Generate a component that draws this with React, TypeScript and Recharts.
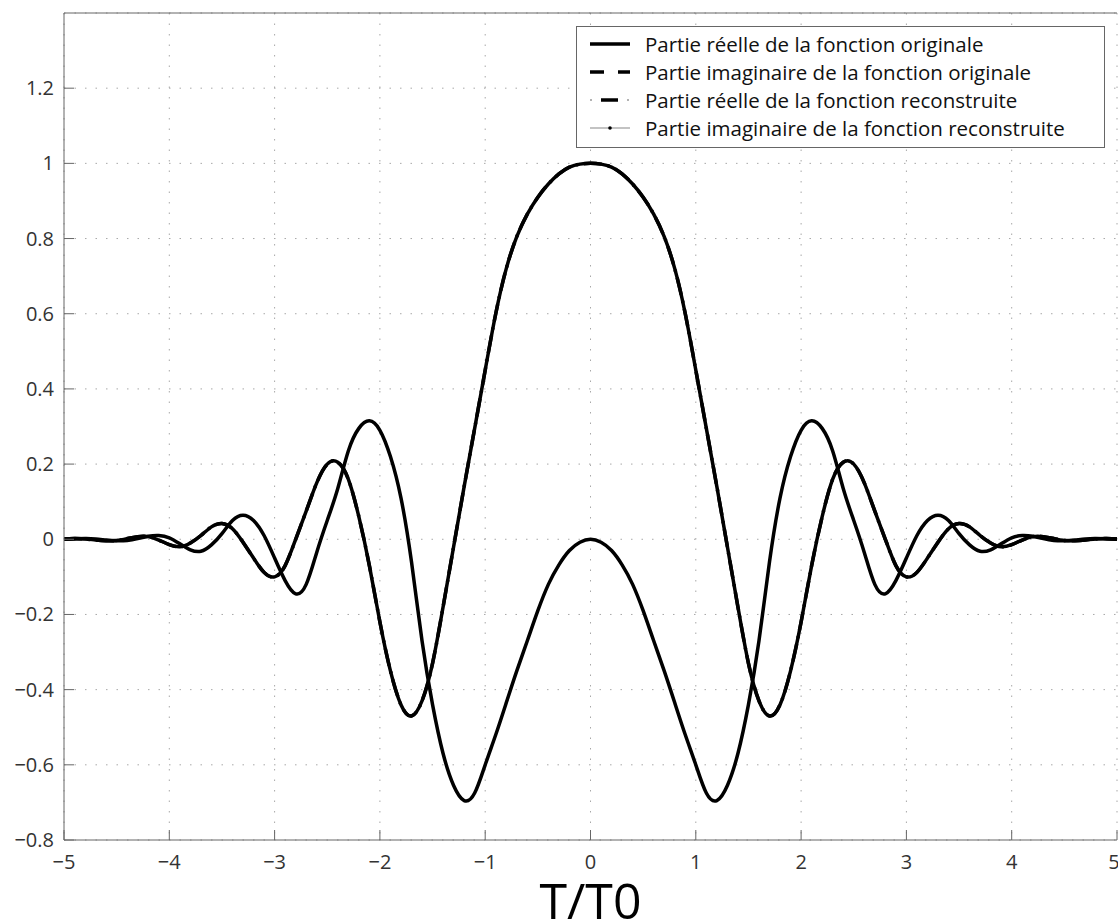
import { LineChart, Line, XAxis, YAxis, CartesianGrid } from 'recharts';

const tValues = [
  -5.0, -4.9, -4.8, -4.7, -4.6, -4.5, -4.4, -4.3, -4.2, -4.1,
  -4.0, -3.9, -3.8, -3.7, -3.6, -3.5, -3.4, -3.3, -3.2, -3.1,
  -3.0, -2.9, -2.8, -2.7, -2.6, -2.5, -2.4, -2.3, -2.2, -2.1,
  -2.0, -1.9, -1.8, -1.7, -1.6, -1.5, -1.4, -1.3, -1.2, -1.1,
  -1.0, -0.9, -0.8, -0.7, -0.6, -0.5, -0.4, -0.3, -0.2, -0.1,
  0.0,
  0.1, 0.2, 0.3, 0.4, 0.5, 0.6, 0.7, 0.8, 0.9, 1.0,
  1.1, 1.2, 1.3, 1.4, 1.5, 1.6, 1.7, 1.8, 1.9, 2.0,
  2.1, 2.2, 2.3, 2.4, 2.5, 2.6, 2.7, 2.8, 2.9, 3.0,
  3.1, 3.2, 3.3, 3.4, 3.5, 3.6, 3.7, 3.8, 3.9, 4.0,
  4.1, 4.2, 4.3, 4.4, 4.5, 4.6, 4.7, 4.8, 4.9, 5.0,
];

// partie réelle (pic à 1 en T=0)
const realPart = [
  0.001, 0.002, 0.001, -0.002, -0.004, -0.003, 0.002, 0.007, 0.007, -0.002,
  -0.014, -0.020, -0.010, 0.010, 0.033, 0.042, 0.028, -0.008, -0.050, -0.088,
  -0.100, -0.070, 0.000, 0.075, 0.150, 0.200, 0.205, 0.160, 0.060, -0.070,
  -0.220, -0.350, -0.440, -0.470, -0.430, -0.330, -0.180, -0.020, 0.140, 0.295,
  0.450, 0.600, 0.720, 0.805, 0.865, 0.910, 0.945, 0.972, 0.990, 0.998,
  1.000,
  0.998, 0.990, 0.972, 0.945, 0.910, 0.865, 0.805, 0.720, 0.600, 0.450,
  0.295, 0.140, -0.020, -0.180, -0.330, -0.430, -0.470, -0.440, -0.350, -0.220,
  -0.070, 0.060, 0.160, 0.205, 0.200, 0.150, 0.075, 0.000, -0.070, -0.100,
  -0.088, -0.050, -0.008, 0.028, 0.042, 0.033, 0.010, -0.010, -0.020, -0.014,
  -0.002, 0.007, 0.007, 0.002, -0.003, -0.004, -0.002, 0.001, 0.002, 0.001,
];

// partie imaginaire (0 en T=0)
const imagPart = [
  0.000, 0.001, 0.002, 0.001, -0.002, -0.004, -0.003, 0.002, 0.008, 0.010,
  0.004, -0.012, -0.028, -0.032, -0.015, 0.015, 0.050, 0.064, 0.050, 0.010,
  -0.050, -0.110, -0.145, -0.120, -0.035, 0.050, 0.135, 0.235, 0.295, 0.315,
  0.290, 0.220, 0.110, -0.060, -0.270, -0.440, -0.570, -0.655, -0.695, -0.675,
  -0.600, -0.520, -0.435, -0.350, -0.270, -0.190, -0.120, -0.068, -0.030, -0.008,
  0.000,
  -0.008, -0.030, -0.068, -0.120, -0.190, -0.270, -0.350, -0.435, -0.520, -0.600,
  -0.675, -0.695, -0.655, -0.570, -0.440, -0.270, -0.060, 0.110, 0.220, 0.290,
  0.315, 0.295, 0.235, 0.135, 0.050, -0.035, -0.120, -0.145, -0.110, -0.050,
  0.010, 0.050, 0.064, 0.050, 0.015, -0.015, -0.032, -0.028, -0.012, 0.004,
  0.010, 0.008, 0.002, -0.003, -0.004, -0.002, 0.001, 0.002, 0.001, 0.000,
];

const xTicks = [-5, -4, -3, -2, -1, 0, 1, 2, 3, 4, 5];
const yTicks = [-0.8, -0.6, -0.4, -0.2, 0, 0.2, 0.4, 0.6, 0.8, 1, 1.2];

const legendLabels = [
  'Partie réelle de la fonction originale',
  'Partie imaginaire de la fonction originale',
  'Partie réelle de la fonction reconstruite',
  'Partie imaginaire de la fonction reconstruite',
];

// la reconstruction se superpose exactement à l'original
const data = tValues.map((t, i) => ({
  t,
  realOrig: realPart[i],
  imagOrig: imagPart[i],
  realRecon: realPart[i],
  imagRecon: imagPart[i],
}));

const FONT = '"Open Sans", Lato, sans-serif';
const AXIS = '#666';
const PLOT_LEFT = 64;
const PLOT_BOTTOM = 840;

const fmt = (v: number) => String(Math.round(v * 10) / 10).replace('-', '\u2212');

// étiquettes placées à distance fixe des axes (graduations tournées vers l'intérieur)
const XTick = (props: any) => (
  <text x={props.x} y={PLOT_BOTTOM + 29} textAnchor="middle" fill="#333" fontSize={20} fontFamily={FONT}>
    {fmt(props.payload.value)}
  </text>
);

const YTick = (props: any) => (
  <text x={PLOT_LEFT - 10} y={props.y} dy={7} textAnchor="end" fill="#333" fontSize={20} fontFamily={FONT}>
    {fmt(props.payload.value)}
  </text>
);

function LegendSymbol({ index }: { index: number }) {
  return (
    <svg width={40} height={20} style={{ display: 'block' }}>
      {index === 0 && <line x1={0} y1={10} x2={40} y2={10} stroke="#000" strokeWidth={3.5} />}
      {index === 1 && (
        <>
          <line x1={0} y1={10} x2={14} y2={10} stroke="#000" strokeWidth={3.5} />
          <line x1={28} y1={10} x2={40} y2={10} stroke="#000" strokeWidth={3.5} />
        </>
      )}
      {index === 2 && (
        <>
          <line x1={0} y1={10} x2={2} y2={10} stroke="#999" strokeWidth={1.5} />
          <line x1={11} y1={10} x2={28} y2={10} stroke="#000" strokeWidth={3.5} />
          <line x1={37} y1={10} x2={39} y2={10} stroke="#999" strokeWidth={1.5} />
        </>
      )}
      {index === 3 && (
        <>
          <line x1={0} y1={10} x2={40} y2={10} stroke="#888" strokeWidth={1.2} />
          <circle cx={20} cy={10} r={1.8} fill="#000" />
        </>
      )}
    </svg>
  );
}

function FunctionLegend() {
  return (
    <div
      style={{
        position: 'absolute',
        left: 576,
        top: 26,
        width: 527,
        height: 117,
        border: '1px solid #666',
        background: '#fff',
        paddingTop: 3,
        fontFamily: FONT,
        fontSize: 20.5,
        color: '#111',
      }}
    >
      {legendLabels.map((label, i) => (
        <div key={label} style={{ display: 'flex', alignItems: 'center', height: 28, paddingLeft: 13 }}>
          <LegendSymbol index={i} />
          <span style={{ marginLeft: 15, whiteSpace: 'nowrap' }}>{label}</span>
        </div>
      ))}
    </div>
  );
}

export default function App() {
  return (
    <div style={{ position: 'relative', width: 1118, height: 922, background: '#fff' }}>
      <style>{'body{margin:0;background:#fff}'}</style>
      <LineChart width={1118} height={922} data={data} margin={{ top: 12, right: 1, bottom: 0, left: 0 }}>
        <CartesianGrid stroke="#a8a8a8" strokeDasharray="1.5 9" strokeWidth={1} />
        <XAxis
          dataKey="t"
          type="number"
          domain={[-5, 5]}
          ticks={xTicks}
          allowDataOverflow
          height={82}
          tickSize={-10}
          stroke={AXIS}
          tick={XTick}
          label={{ value: 'T/T0', position: 'insideBottom', offset: 3, fontSize: 50, fontFamily: FONT, fill: '#000' }}
        />
        <XAxis
          xAxisId="top"
          orientation="top"
          dataKey="t"
          type="number"
          domain={[-5, 5]}
          ticks={xTicks}
          allowDataOverflow
          height={1}
          tickSize={-10}
          tick={false}
          stroke={AXIS}
        />
        <YAxis
          type="number"
          domain={[-0.8, 1.4]}
          ticks={yTicks}
          allowDataOverflow
          width={PLOT_LEFT}
          tickSize={-10}
          stroke={AXIS}
          tick={YTick}
        />
        <YAxis
          yAxisId="right"
          orientation="right"
          type="number"
          domain={[-0.8, 1.4]}
          ticks={yTicks}
          allowDataOverflow
          width={0}
          tickSize={-10}
          tick={false}
          stroke={AXIS}
        />
        <Line dataKey="realOrig" name={legendLabels[0]} type="natural" stroke="#000" strokeWidth={3.5} dot={false} activeDot={false} isAnimationActive={false} />
        <Line dataKey="imagOrig" name={legendLabels[1]} type="natural" stroke="#000" strokeWidth={3.5} dot={false} activeDot={false} isAnimationActive={false} />
        <Line dataKey="realRecon" name={legendLabels[2]} type="natural" stroke="#000" strokeWidth={3.5} strokeDasharray="18 6 2 6" dot={false} activeDot={false} isAnimationActive={false} />
        <Line dataKey="imagRecon" name={legendLabels[3]} type="natural" stroke="#000" strokeWidth={1.5} dot={false} activeDot={false} isAnimationActive={false} />
      </LineChart>
      <FunctionLegend />
    </div>
  );
}
